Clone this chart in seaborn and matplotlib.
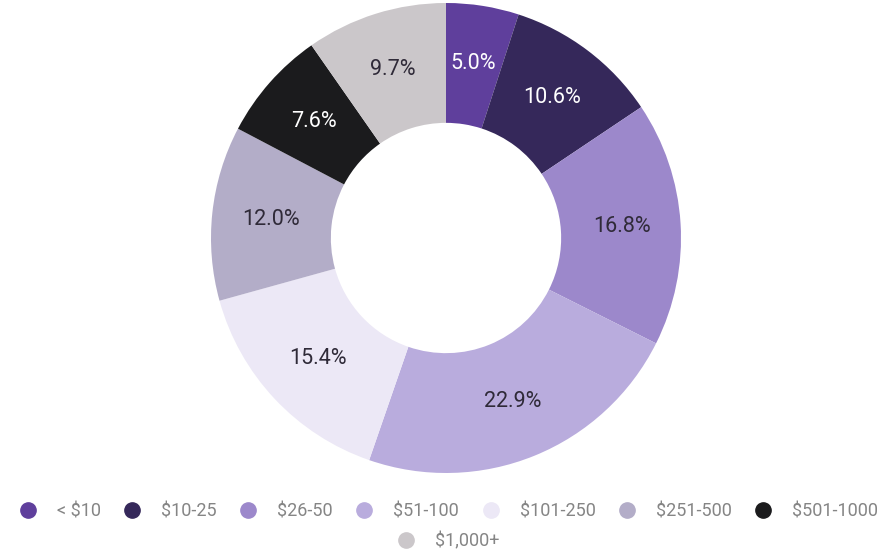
import matplotlib
matplotlib.use("Agg")
import matplotlib.pyplot as plt
from matplotlib.lines import Line2D
import seaborn as sns

# Share of items by price band
bands = ["< $10", "$10-25", "$26-50", "$51-100", "$101-250", "$251-500", "$501-1000", "$1,000+"]
shares = [5.0, 10.6, 16.8, 22.9, 15.4, 12.0, 7.6, 9.7]
colors = ["#5f3f9c", "#35285a", "#9c88cb", "#b9acdd", "#ece8f6", "#b3adc8", "#1b1b1d", "#cbc7ca"]
label_colors = ["#ffffff", "#ffffff", "#2f2a38", "#2f2a38", "#2f2a38", "#2f2a38", "#ffffff", "#2f2a38"]

sns.set_theme(style="white")
plt.rcParams["font.family"] = ["Roboto", "DejaVu Sans"]
palette = sns.color_palette(colors)

fig = plt.figure(figsize=(8.88, 5.53), dpi=100)
W, H = 888, 553
cx, cy, r = 446, 315, 235
ax = fig.add_axes([(cx - r) / W, (cy - r) / H, 2 * r / W, 2 * r / H])

wedges, texts, autotexts = ax.pie(
    shares,
    colors=palette,
    startangle=90,
    counterclock=False,
    autopct="%.1f%%",
    pctdistance=0.75,
    wedgeprops=dict(width=0.51, linewidth=0),
    textprops=dict(fontsize=15.5),
)
for t, c in zip(autotexts, label_colors):
    t.set_color(c)
ax.set_xlim(-1, 1)
ax.set_ylim(-1, 1)
ax.set_aspect("equal")
ax.axis("off")

handles = [
    Line2D([], [], marker="o", linestyle="", markersize=11,
           markerfacecolor=c, markeredgecolor=c)
    for c in palette
]

leg_kw = dict(frameon=False, fontsize=13, labelcolor="#858585",
              handlelength=2.0, handletextpad=0.6, columnspacing=0.75,
              loc="center")
fig.legend(handles[:7], bands[:7], ncol=7,
           bbox_to_anchor=(0.5, 1 - 511 / H), **leg_kw)
fig.legend(handles[7:], bands[7:], ncol=1,
           bbox_to_anchor=(0.5, 1 - 541 / H), **leg_kw)

fig.savefig("out.png", dpi=100, facecolor="white")
